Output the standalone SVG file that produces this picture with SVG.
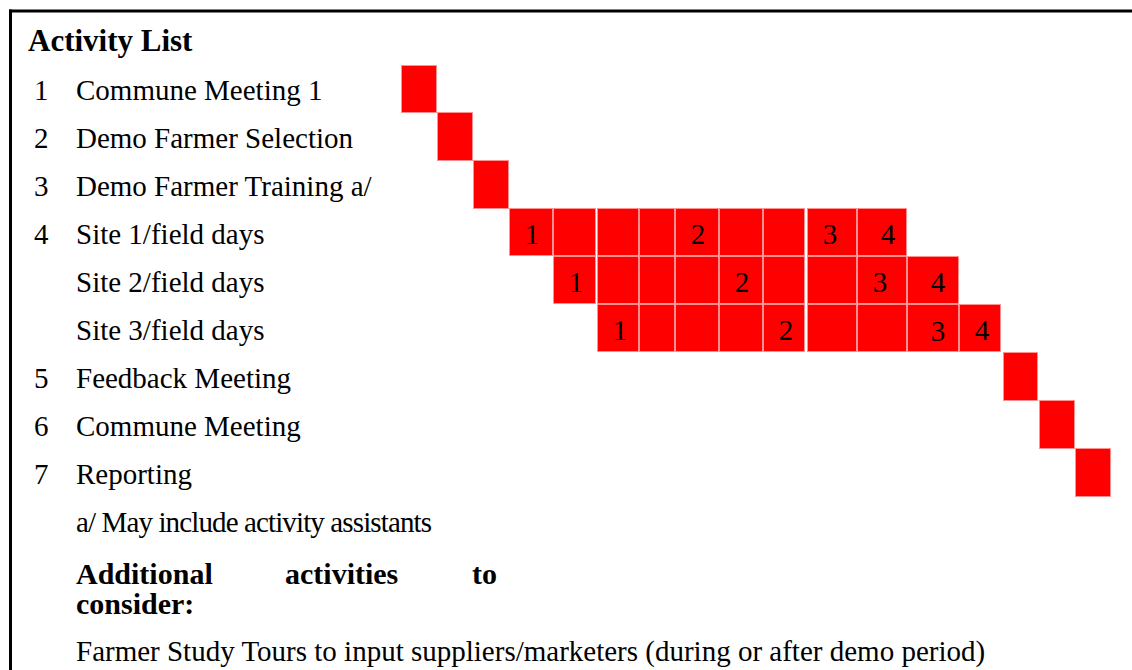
<svg xmlns="http://www.w3.org/2000/svg" width="1132" height="670" viewBox="0 0 1132 670">
<style>
.t{font-family:"Liberation Serif","Times New Roman",serif;font-size:29px;fill:#000}
.b{font-family:"Liberation Serif","Times New Roman",serif;font-weight:bold;fill:#000}
.n{font-family:"Liberation Serif","Times New Roman",serif;font-size:29px;fill:#000;text-anchor:middle}
.c{fill:#ff0000;stroke:#ff9090;stroke-width:1}
</style>
<rect width="1132" height="670" fill="#fff"/>
<g id="frame">
<rect x="9" y="9.5" width="1123" height="3" fill="#000"/>
<rect x="9" y="9.5" width="3" height="660.5" fill="#000"/>
</g>
<g id="title"><text class="b" x="28" y="51" font-size="31">Activity List</text></g>
<g id="labels">
<g id="row1"><text class="t" x="34" y="100">1</text><text class="t" x="76" y="100">Commune Meeting 1</text></g>
<g id="row2"><text class="t" x="34" y="148">2</text><text class="t" x="76" y="148">Demo Farmer Selection</text></g>
<g id="row3"><text class="t" x="34" y="196">3</text><text class="t" x="76" y="196">Demo Farmer Training a/</text></g>
<g id="row4"><text class="t" x="34" y="244">4</text><text class="t" x="76" y="244">Site 1/field days</text></g>
<g id="row4b"><text class="t" x="76" y="292">Site 2/field days</text></g>
<g id="row4c"><text class="t" x="76" y="340">Site 3/field days</text></g>
<g id="row5"><text class="t" x="34" y="388">5</text><text class="t" x="76" y="388">Feedback Meeting</text></g>
<g id="row6"><text class="t" x="34" y="436">6</text><text class="t" x="76" y="436">Commune Meeting</text></g>
<g id="row7"><text class="t" x="34" y="484">7</text><text class="t" x="76" y="484">Reporting</text></g>
</g>
<g id="bar1"><rect class="c" x="401.5" y="65.5" width="35" height="47"/></g>
<g id="bar2"><rect class="c" x="437.5" y="112.5" width="35" height="48"/></g>
<g id="bar3"><rect class="c" x="473.5" y="160.5" width="35" height="48"/></g>
<g id="bar4-site1">
<rect class="c" x="509.5" y="208.5" width="43" height="47"/>
<rect class="c" x="553.5" y="208.5" width="42" height="47"/>
<rect class="c" x="597.5" y="208.5" width="41" height="47"/>
<rect class="c" x="639.5" y="208.5" width="35" height="47"/>
<rect class="c" x="675.5" y="208.5" width="43" height="47"/>
<rect class="c" x="719.5" y="208.5" width="43" height="47"/>
<rect class="c" x="763.5" y="208.5" width="41" height="47"/>
<rect class="c" x="807.5" y="208.5" width="49" height="47"/>
<rect class="c" x="857.5" y="208.5" width="49" height="47"/>
<text class="n" x="532" y="244">1</text>
<text class="n" x="698" y="244">2</text>
<text class="n" x="830" y="244">3</text>
<text class="n" x="888" y="244">4</text>
</g>
<g id="bar4-site2">
<rect class="c" x="553.5" y="256.5" width="42" height="47"/>
<rect class="c" x="597.5" y="256.5" width="41" height="47"/>
<rect class="c" x="639.5" y="256.5" width="35" height="47"/>
<rect class="c" x="675.5" y="256.5" width="43" height="47"/>
<rect class="c" x="719.5" y="256.5" width="43" height="47"/>
<rect class="c" x="763.5" y="256.5" width="41" height="47"/>
<rect class="c" x="807.5" y="256.5" width="49" height="47"/>
<rect class="c" x="857.5" y="256.5" width="49" height="47"/>
<rect class="c" x="907.5" y="256.5" width="51" height="47"/>
<text class="n" x="576" y="292">1</text>
<text class="n" x="742" y="292">2</text>
<text class="n" x="880" y="292">3</text>
<text class="n" x="938" y="292">4</text>
</g>
<g id="bar4-site3">
<rect class="c" x="597.5" y="304.5" width="41" height="47"/>
<rect class="c" x="639.5" y="304.5" width="35" height="47"/>
<rect class="c" x="675.5" y="304.5" width="43" height="47"/>
<rect class="c" x="719.5" y="304.5" width="43" height="47"/>
<rect class="c" x="763.5" y="304.5" width="41" height="47"/>
<rect class="c" x="807.5" y="304.5" width="49" height="47"/>
<rect class="c" x="857.5" y="304.5" width="49" height="47"/>
<rect class="c" x="907.5" y="304.5" width="51" height="47"/>
<rect class="c" x="959.5" y="304.5" width="41" height="47"/>
<text class="n" x="620" y="340">1</text>
<text class="n" x="786" y="340">2</text>
<text class="n" x="938" y="341">3</text>
<text class="n" x="982" y="340">4</text>
</g>
<g id="bar5"><rect class="c" x="1003.5" y="352.5" width="34" height="48"/></g>
<g id="bar6"><rect class="c" x="1039.5" y="400.5" width="35" height="48"/></g>
<g id="bar7"><rect class="c" x="1075.5" y="448.5" width="35" height="48"/></g>
<g id="connectors"></g>
<g id="notes">
<text class="t" x="76" y="532" font-size="20" textLength="356" lengthAdjust="spacing">a/ May include activity assistants</text>
<text class="b" x="76" y="584" font-size="30">Additional</text>
<text class="b" x="285" y="584" font-size="30">activities</text>
<text class="b" x="472" y="584" font-size="30">to</text>
<text class="b" x="76" y="614" font-size="30">consider:</text>
<text class="t" x="76" y="661">Farmer Study Tours to input suppliers/marketers (during or after demo period)</text>
</g>
</svg>
